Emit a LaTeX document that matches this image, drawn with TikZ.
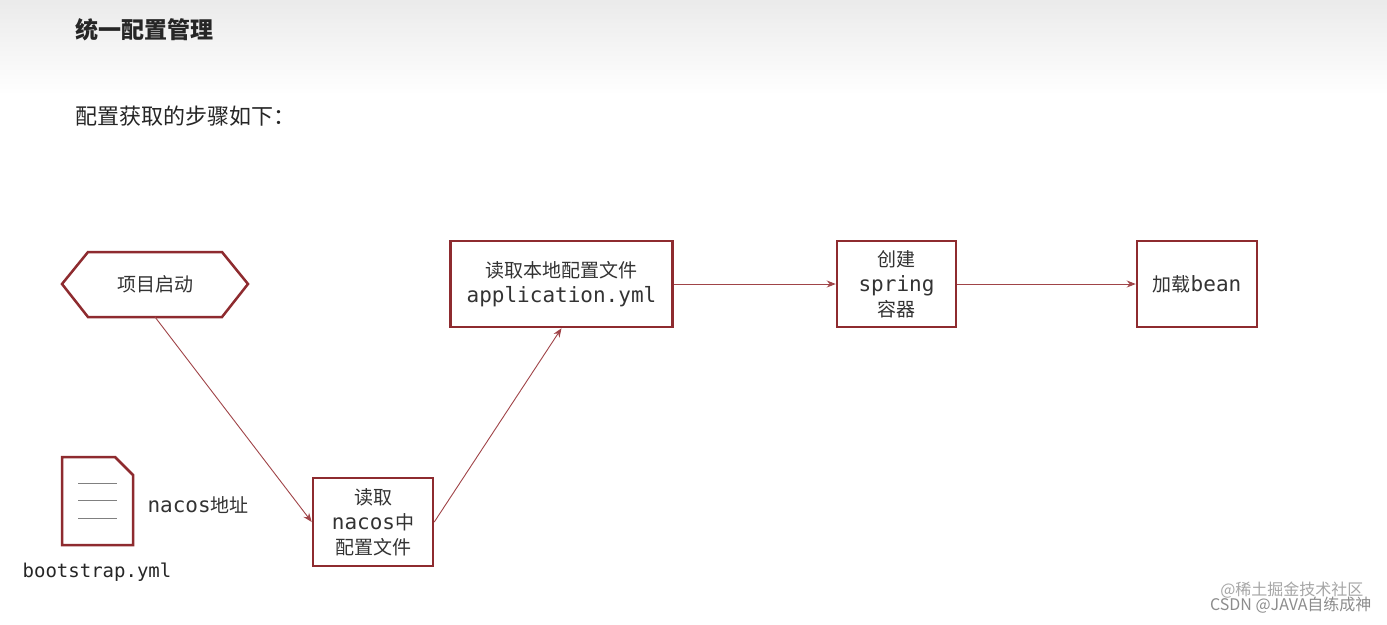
\documentclass[tikz,border=0pt]{standalone}
\usepackage{fontspec}
\setmainfont{Noto Sans CJK SC}
\newfontfamily\monof{DejaVu Sans Mono}
\usetikzlibrary{arrows.meta}
\definecolor{bd}{HTML}{8E2B2F}
\definecolor{ln}{HTML}{A04448}
\newcommand{\mt}[1]{{\monof\fontsize{21}{25}\selectfont #1}}
\tikzset{box/.style={draw=bd,line width=2.5pt,fill=white,align=center,font=\fontsize{19}{25}\selectfont,text=black!80,inner sep=2pt},
 arr/.style={draw=ln,line width=0.9pt,-{Stealth[length=9pt,width=7pt]}}}
\begin{document}
\begin{tikzpicture}[x=1pt,y=-1pt]
\useasboundingbox (0,0) rectangle (1387,624);
\fill[white] (0,0) rectangle (1387,624);
\shade[top color=black!8,bottom color=white] (0,0) rectangle (1387,95);
\node[anchor=west,font=\fontsize{23}{27}\selectfont\bfseries,text=black!85] (title) at (72,30) {统一配置管理};
\node[anchor=west,font=\fontsize{22}{26}\selectfont,text=black!85] (sub) at (72,116) {配置获取的步骤如下：};
% hexagon
\draw[bd,line width=2.5pt] (62,284) -- (88,252) -- (222,252) -- (248,284) -- (222,317) -- (88,317) -- cycle;
\node[font=\fontsize{19}{25}\selectfont,text=black!80] (hex) at (155,284) {项目启动};
\coordinate (hexb) at (155,317);
\node[box,minimum width=222,minimum height=86] (b1) at (561.5,284) {读取本地配置文件\\\mt{application.yml}};
\node[box,minimum width=119,minimum height=86] (b2) at (896.5,284) {创建\\\mt{spring}\\容器};
\node[box,minimum width=120,minimum height=86] (b3) at (1197,284) {加载\mt{bean}};
\node[box,minimum width=120,minimum height=88] (b4) at (373,522) {读取\\\mt{nacos}中\\配置文件};
% file icon
\draw[bd,line width=2.5pt,fill=white] (62,457) -- (115,457) -- (133,475) -- (133,545) -- (62,545) -- cycle;
\foreach \yy in {483,500,518} \draw[black!50,line width=0.6pt] (78,\yy) -- (117,\yy);
\node[anchor=west,font=\fontsize{19}{25}\selectfont,text=black!80] (nac) at (144,505) {\mt{nacos}地址};
\node[font=\monof\fontsize{19}{22}\selectfont,text=black!85] (bs) at (97,572) {bootstrap.yml};
\draw[arr] (hexb) -- (b4.west);
\draw[arr] (b4.east) -- (b1.south);
\draw[arr] (b1.east) -- (b2.west);
\draw[arr] (b2.east) -- (b3.west);
\node[anchor=east,font=\fontsize{16}{18}\selectfont,text=black!35] (wm1) at (1367,590) {@稀土掘金技术社区};
\node[anchor=east,font=\fontsize{16}{18}\selectfont,text=black!45] (wm2) at (1375,605) {CSDN @JAVA自练成神};
\end{tikzpicture}
\end{document}
